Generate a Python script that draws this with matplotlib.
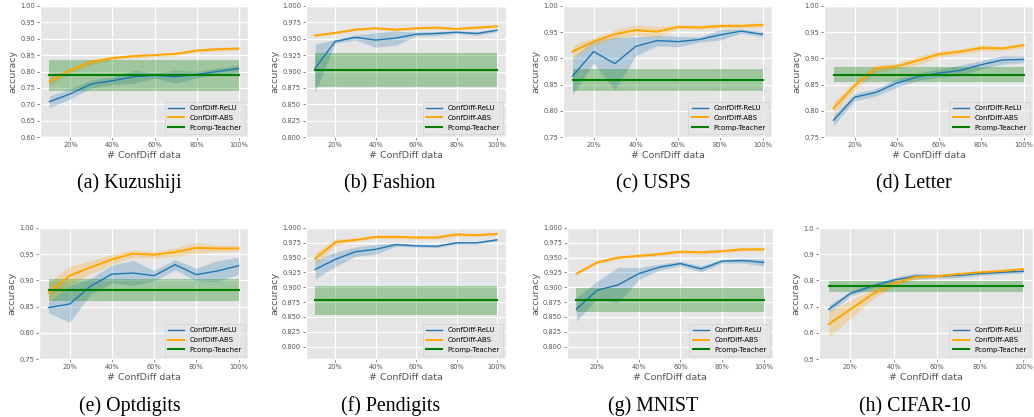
import numpy as np
import matplotlib
matplotlib.use('Agg')
import matplotlib.pyplot as plt
from matplotlib.ticker import FuncFormatter

# x axis: fraction of ConfDiff data
ratios = [0.1, 0.2, 0.3, 0.4, 0.5, 0.6, 0.7, 0.8, 0.9, 1.0]

# per dataset: ReLU mean/std, ABS mean/std, Pcomp-Teacher mean/std
kuz_relu = [0.708, 0.732, 0.762, 0.772, 0.784, 0.788, 0.784, 0.791, 0.800, 0.809]
kuz_relu_std = [0.018, 0.015, 0.012, 0.012, 0.020, 0.008, 0.020, 0.010, 0.010, 0.010]
kuz_abs = [0.770, 0.804, 0.829, 0.841, 0.847, 0.850, 0.854, 0.864, 0.868, 0.870]
kuz_abs_std = [0.012, 0.008, 0.008, 0.006, 0.005, 0.005, 0.005, 0.005, 0.006, 0.005]
kuz_pc, kuz_pc_std = 0.788, 0.047

fas_relu = [0.905, 0.946, 0.952, 0.948, 0.951, 0.957, 0.958, 0.960, 0.958, 0.963]
fas_relu_std = [0.037, 0.003, 0.004, 0.011, 0.011, 0.003, 0.003, 0.002, 0.003, 0.002]
fas_abs = [0.955, 0.959, 0.964, 0.966, 0.964, 0.966, 0.967, 0.965, 0.967, 0.969]
fas_abs_std = [0.002, 0.002, 0.002, 0.002, 0.002, 0.002, 0.002, 0.002, 0.002, 0.002]
fas_pc, fas_pc_std = 0.9026, 0.026

usps_relu = [0.866, 0.913, 0.890, 0.923, 0.934, 0.932, 0.936, 0.945, 0.952, 0.946]
usps_relu_std = [0.035, 0.022, 0.050, 0.018, 0.010, 0.010, 0.005, 0.010, 0.004, 0.005]
usps_abs = [0.913, 0.932, 0.946, 0.954, 0.951, 0.960, 0.959, 0.962, 0.962, 0.964]
usps_abs_std = [0.012, 0.008, 0.008, 0.010, 0.010, 0.004, 0.004, 0.004, 0.004, 0.004]
usps_pc, usps_pc_std = 0.858, 0.021

let_relu = [0.782, 0.826, 0.835, 0.853, 0.865, 0.872, 0.877, 0.888, 0.897, 0.898]
let_relu_std = [0.010, 0.007, 0.007, 0.008, 0.007, 0.008, 0.010, 0.008, 0.008, 0.006]
let_abs = [0.805, 0.848, 0.881, 0.885, 0.896, 0.908, 0.913, 0.920, 0.919, 0.925]
let_abs_std = [0.012, 0.008, 0.007, 0.005, 0.008, 0.006, 0.005, 0.006, 0.004, 0.005]
let_pc, let_pc_std = 0.869, 0.014

opt_relu = [0.848, 0.855, 0.889, 0.912, 0.914, 0.909, 0.930, 0.911, 0.918, 0.928]
opt_relu_std = [0.010, 0.035, 0.015, 0.017, 0.024, 0.010, 0.010, 0.012, 0.020, 0.016]
opt_abs = [0.876, 0.909, 0.925, 0.940, 0.951, 0.949, 0.954, 0.962, 0.961, 0.961]
opt_abs_std = [0.020, 0.018, 0.012, 0.010, 0.007, 0.006, 0.008, 0.010, 0.006, 0.006]
opt_pc, opt_pc_std = 0.881, 0.021

pen_relu = [0.930, 0.947, 0.960, 0.964, 0.972, 0.970, 0.969, 0.975, 0.975, 0.980]
pen_relu_std = [0.016, 0.012, 0.008, 0.008, 0.003, 0.002, 0.002, 0.002, 0.002, 0.002]
pen_abs = [0.948, 0.976, 0.980, 0.985, 0.985, 0.984, 0.984, 0.989, 0.988, 0.990]
pen_abs_std = [0.010, 0.005, 0.003, 0.003, 0.003, 0.003, 0.003, 0.003, 0.002, 0.002]
pen_pc, pen_pc_std = 0.878, 0.024

mni_relu = [0.863, 0.895, 0.904, 0.923, 0.934, 0.940, 0.931, 0.944, 0.945, 0.942]
mni_relu_std = [0.020, 0.015, 0.030, 0.010, 0.005, 0.004, 0.005, 0.003, 0.004, 0.006]
mni_abs = [0.923, 0.942, 0.950, 0.953, 0.956, 0.960, 0.959, 0.961, 0.964, 0.964]
mni_abs_std = [0.003, 0.003, 0.003, 0.003, 0.003, 0.003, 0.003, 0.003, 0.003, 0.003]
mni_pc, mni_pc_std = 0.878, 0.020

cif_relu = [0.690, 0.750, 0.778, 0.801, 0.816, 0.816, 0.819, 0.826, 0.831, 0.835]
cif_relu_std = [0.015, 0.010, 0.008, 0.010, 0.012, 0.008, 0.008, 0.008, 0.007, 0.007]
cif_abs = [0.633, 0.689, 0.746, 0.788, 0.813, 0.816, 0.824, 0.831, 0.836, 0.843]
cif_abs_std = [0.048, 0.035, 0.020, 0.012, 0.008, 0.006, 0.006, 0.006, 0.006, 0.006]
cif_pc, cif_pc_std = 0.777, 0.020

captions = ['(a) Kuzushiji', '(b) Fashion', '(c) USPS', '(d) Letter',
            '(e) Optdigits', '(f) Pendigits', '(g) MNIST', '(h) CIFAR-10']

############################################################

plt.style.use('ggplot')
fig = plt.figure(figsize=(10.34, 4.17), dpi=100)

panels = [
    (kuz_relu, kuz_relu_std, kuz_abs, kuz_abs_std, kuz_pc, kuz_pc_std, (0.6, 1.0), np.arange(0.6, 1.001, 0.05), '%.2f'),
    (fas_relu, fas_relu_std, fas_abs, fas_abs_std, fas_pc, fas_pc_std, (0.8, 1.0), np.arange(0.8, 1.001, 0.025), '%.3f'),
    (usps_relu, usps_relu_std, usps_abs, usps_abs_std, usps_pc, usps_pc_std, (0.75, 1.0), np.arange(0.75, 1.001, 0.05), '%.2f'),
    (let_relu, let_relu_std, let_abs, let_abs_std, let_pc, let_pc_std, (0.75, 1.0), np.arange(0.75, 1.001, 0.05), '%.2f'),
    (opt_relu, opt_relu_std, opt_abs, opt_abs_std, opt_pc, opt_pc_std, (0.75, 1.0), np.arange(0.75, 1.001, 0.05), '%.2f'),
    (pen_relu, pen_relu_std, pen_abs, pen_abs_std, pen_pc, pen_pc_std, (0.779, 1.0), np.arange(0.8, 1.001, 0.025), '%.3f'),
    (mni_relu, mni_relu_std, mni_abs, mni_abs_std, mni_pc, mni_pc_std, (0.779, 1.0), np.arange(0.8, 1.001, 0.025), '%.3f'),
    (cif_relu, cif_relu_std, cif_abs, cif_abs_std, cif_pc, cif_pc_std, (0.5, 1.0), np.arange(0.5, 1.001, 0.1), '%.1f'),
]

# axes boxes in pixels: left, right, top, bottom
boxes = [(40, 248, 6, 137), (306, 506, 6, 137), (563, 772, 6, 137), (824, 1033, 6, 137),
         (39, 248, 228, 359), (306, 506, 228, 359), (567, 773, 228, 359), (819, 1033, 228, 359)]
cap_x = [129, 390, 653, 914, 130, 391, 653, 915]

W, H = 1034.0, 417.0
x = np.array(ratios)

for i, p in enumerate(panels):
	relu, relu_std, absv, abs_std, pc, pc_std, ylim, yticks, fmt = p
	l, r, t, b = boxes[i]
	ax = fig.add_axes([l / W, 1 - b / H, (r - l) / W, (b - t) / H])

	relu = np.array(relu); relu_std = np.array(relu_std)
	absv = np.array(absv); abs_std = np.array(abs_std)

	ax.plot(x, relu, color='#1f77b4', lw=1.0, label='ConfDiff-ReLU')
	ax.fill_between(x, relu - relu_std, relu + relu_std, color='#1f77b4', alpha=0.25, lw=0)
	ax.plot(x, absv, color='orange', lw=1.4, label='ConfDiff-ABS')
	ax.fill_between(x, absv - abs_std, absv + abs_std, color='orange', alpha=0.25, lw=0)
	ax.plot(x, np.full_like(x, pc), color='green', lw=1.5, label='Pcomp-Teacher')
	ax.fill_between(x, pc - pc_std, pc + pc_std, color='green', alpha=0.3, lw=0)

	ax.set_ylim(*ylim)
	ax.set_yticks(yticks)
	ax.yaxis.set_major_formatter(FuncFormatter(lambda v, pos, f=fmt: f % v))
	ax.set_xticks([0.2, 0.4, 0.6, 0.8, 1.0])
	ax.set_xticklabels(['20%', '40%', '60%', '80%', '100%'])
	ax.tick_params(labelsize=4.8, length=2, width=0.5, pad=1.5, colors='#555555')
	ax.grid(color='white', lw=0.9)
	ax.set_xlabel('# ConfDiff data', fontsize=6.8, color='#555555', labelpad=2)
	ax.set_ylabel('accuracy', fontsize=6.8, color='#555555', labelpad=2)

	ax.legend(loc='lower right', fontsize=5.0, handlelength=2.3, borderpad=0.5,
	          labelspacing=0.55, handletextpad=0.8, borderaxespad=0.4, framealpha=0.8)

	cap_y = 188 if i < 4 else 411
	fig.text(cap_x[i] / W, 1 - cap_y / H, captions[i], ha='center', va='baseline',
	         fontsize=14.3, family='Liberation Serif', color='black')

plt.savefig('out.png', dpi=100)
